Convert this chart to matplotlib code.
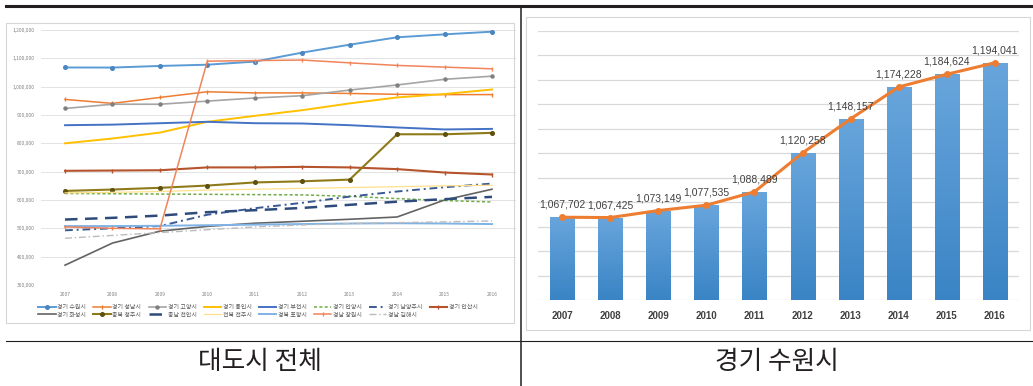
import matplotlib.pyplot as plt
import matplotlib.patches as mpatches
from matplotlib.lines import Line2D
from matplotlib.colors import LinearSegmentedColormap
import numpy as np

plt.rcParams['font.family'] = ['Noto Sans CJK KR', 'DejaVu Sans']

W, H = 1033, 386

years = ['2007', '2008', '2009', '2010', '2011', '2012', '2013', '2014', '2015', '2016']

# population of large cities (left panel)
suwon = [1067702, 1067425, 1073149, 1077535, 1088489, 1120258, 1148157, 1174228, 1184624, 1194041]
seongnam = [955000, 941000, 962000, 982000, 978000, 978000, 976000, 973000, 972000, 972000]
goyang = [923000, 938000, 938000, 949000, 960000, 968000, 988000, 1006000, 1026000, 1037000]
yongin = [800000, 817000, 838000, 876000, 897000, 917000, 941000, 962000, 974000, 990000]
bucheon = [864000, 866000, 871000, 876000, 871000, 870000, 864000, 856000, 849000, 851000]
anyang = [623000, 622000, 621000, 620000, 619000, 618000, 613000, 605000, 598000, 593000]
namyangju = [493000, 500000, 508000, 548000, 571000, 590000, 612000, 630000, 645000, 658000]
ansan = [703000, 704000, 705000, 715000, 715000, 717000, 715000, 709000, 697000, 690000]
hwaseong = [370000, 448000, 490000, 507000, 518000, 525000, 532000, 540000, 600000, 638000]
cheongju = [632000, 637000, 643000, 651000, 662000, 666000, 672000, 832000, 832000, 837000]
cheonan = [531000, 537000, 545000, 557000, 564000, 572000, 583000, 594000, 603000, 611000]
jeonju = [625000, 627000, 630000, 635000, 638000, 641000, 644000, 647000, 650000, 652000]
pohang = [508000, 508000, 509000, 511000, 513000, 515000, 517000, 518000, 517000, 515000]
changwon = [505000, 500000, 498000, 1090000, 1092000, 1094000, 1084000, 1075000, 1069000, 1063000]
gimhae = [465000, 475000, 485000, 495000, 505000, 512000, 517000, 520000, 523000, 526000]

series = [
    ('경기 수원시', suwon, dict(color='#5b9bd5', lw=1.4, marker='o', ms=2.6, mfc='#4a86c0', mec='#4a86c0')),
    ('경기 성남시', seongnam, dict(color='#ed7d31', lw=1.1, marker='|', ms=2.5)),
    ('경기 고양시', goyang, dict(color='#a5a5a5', lw=1.2, marker='o', ms=2.2, mfc='#808080', mec='#808080')),
    ('경기 용인시', yongin, dict(color='#ffc000', lw=1.4)),
    ('경기 부천시', bucheon, dict(color='#4472c4', lw=1.4)),
    ('경기 안양시', anyang, dict(color='#70ad47', lw=1.1, ls=(0, (2, 1.5)))),
    ('경기 남양주시', namyangju, dict(color='#3a5a95', lw=1.4, ls=(0, (4, 2, 1, 2)))),
    ('경기 안산시', ansan, dict(color='#b5532c', lw=1.5, marker='|', ms=2.5)),
    ('경기 화성시', hwaseong, dict(color='#636363', lw=1.2)),
    ('충북 청주시', cheongju, dict(color='#8f7a1a', lw=1.5, marker='o', ms=2.6, mfc='#5e500e', mec='#5e500e')),
    ('충남 천안시', cheonan, dict(color='#2f4b7c', lw=1.8, ls=(0, (5, 3)))),
    ('전북 전주시', jeonju, dict(color='#ffe08a', lw=0.9)),
    ('경북 포항시', pohang, dict(color='#7fb2e5', lw=1.4)),
    ('경남 창원시', changwon, dict(color='#f0845a', lw=1.1, marker='|', ms=2.5)),
    ('경남 김해시', gimhae, dict(color='#bcbcbc', lw=1.0, ls=(0, (5, 2, 1, 2)))),
]


def box(x0, y0, x1, y1):
    return [x0 / W, 1 - y1 / H, (x1 - x0) / W, (y1 - y0) / H]


fig = plt.figure(figsize=(W / 100, H / 100), dpi=100)

# frames and table lines
fig.add_artist(mpatches.Rectangle((6 / W, 1 - 323 / H), 508 / W, 300 / H, transform=fig.transFigure,
                                  fill=False, ec='#d6d6d6', lw=0.8))
fig.add_artist(mpatches.Rectangle((526 / W, 1 - 330 / H), 504 / W, 313 / H, transform=fig.transFigure,
                                  fill=False, ec='#d6d6d6', lw=0.8))
fig.add_artist(Line2D([6 / W, 1], [1 - 5.5 / H] * 2, color='#231f20', lw=2.2))
fig.add_artist(Line2D([521 / W] * 2, [0, 1 - 5.5 / H], color='#231f20', lw=1.1))
fig.add_artist(Line2D([6 / W, 1], [1 - 341 / H] * 2, color='#231f20', lw=0.8))

# left: all large cities
ax1 = fig.add_axes(box(41.3, 30, 515.7, 285))
x = np.arange(len(years))
handles = []
for name, vals, st in series:
    ln, = ax1.plot(x, vals, label=name, **st)
    handles.append(ln)
ax1.set_xlim(-0.5, 9.5)
ax1.set_ylim(300000, 1200000)
ax1.set_yticks(range(300000, 1200001, 100000))
ax1.set_yticklabels([f'{v:,}' for v in range(300000, 1200001, 100000)])
ax1.set_xticks(x)
ax1.set_xticklabels(years)
ax1.tick_params(length=0, labelsize=3.5, labelcolor='#808080', pad=5)
ax1.yaxis.grid(True, color='#e3e3e3', lw=0.7)
ax1.set_axisbelow(True)
for s in ax1.spines.values():
    s.set_visible(False)

# excel fills the legend row by row, matplotlib column by column
order = [0, 8, 1, 9, 2, 10, 3, 11, 4, 12, 5, 13, 6, 14, 7]
fig.legend([handles[i] for i in order], [series[i][0] for i in order],
           loc='center', bbox_to_anchor=(258 / W, 1 - 311 / H), ncol=8, frameon=False,
           fontsize=4.3, handlelength=2.9, columnspacing=1.2, handletextpad=0.3,
           labelspacing=0.45, borderpad=0, labelcolor='#595959')

# right: Suwon
ax2 = fig.add_axes(box(538, 31, 1019, 300))
bars = ax2.bar(x, suwon, width=0.5, color='#4a90d0', zorder=2)
cmap = LinearSegmentedColormap.from_list('bar', ['#3a84c5', '#68a5dc'])
grad = np.linspace(0, 1, 256).reshape(-1, 1)
for b in bars:
    im = ax2.imshow(grad, extent=(b.get_x(), b.get_x() + b.get_width(), 1000000, b.get_height()),
                    origin='lower', aspect='auto', cmap=cmap, zorder=2.1)
    im.set_clip_path(b)
ax2.plot(x, suwon, color='#ed7d31', lw=2.2, marker='o', ms=4, zorder=3)
for xi, v in zip(x, suwon):
    ax2.annotate(f'{v:,}', (xi, v), xytext=(0, 9), textcoords='offset points',
                 ha='center', va='center', fontsize=7.5, color='#404040',
                 family='Liberation Sans', zorder=4)
ax2.set_xlim(-0.5, 9.5)
ax2.set_ylim(1000000, 1220000)
ax2.set_aspect('auto')
ax2.set_yticks(range(1000000, 1220001, 20000))
ax2.set_yticklabels([])
ax2.set_xticks(x)
ax2.set_xticklabels(years, family='Liberation Sans', fontweight='bold')
ax2.tick_params(length=0, labelsize=7, labelcolor='#404040', pad=8)
ax2.yaxis.grid(True, color='#d9d9d9', lw=0.9)
ax2.set_axisbelow(True)
for s in ax2.spines.values():
    s.set_visible(False)

fig.text(260 / W, 1 - 362 / H, '대도시 전체', ha='center', va='center', fontsize=18.5, color='#231f20')
fig.text(777 / W, 1 - 362 / H, '경기 수원시', ha='center', va='center', fontsize=18.5, color='#231f20')

fig.savefig('out.png', dpi=100)
